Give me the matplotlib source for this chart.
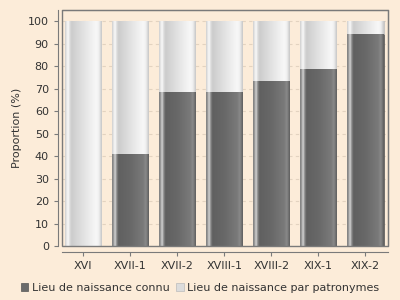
import numpy as np
import matplotlib
matplotlib.use('Agg')
import matplotlib.pyplot as plt
from matplotlib.patches import Rectangle

# Data
periods = ['XVI', 'XVII-1', 'XVII-2', 'XVIII-1', 'XVIII-2', 'XIX-1', 'XIX-2']
connu = [0, 41, 68.5, 68.5, 73.5, 78.5, 94.5]
patronymes = [100 - v for v in connu]
labels = ['Lieu de naissance connu', 'Lieu de naissance par patronymes']

bg = '#fcecd9'
fig = plt.figure(figsize=(4, 3), dpi=100, facecolor=bg)
ax = fig.add_axes([0.155, 0.18, 0.815, 0.787])
ax.set_facecolor(bg)

x = np.arange(len(periods))
width = 0.77
b1 = ax.bar(x, connu, width, color='#6b6b6b', edgecolor='#555555', linewidth=0.5,
            label=labels[0], zorder=2)
b2 = ax.bar(x, patronymes, width, bottom=connu, color='#dcdcdc', edgecolor='#bbbbbb',
            linewidth=0.5, label=labels[1], zorder=2)

# cylinder-like shading, grey levels across the bar width
pos = [0, 0.04, 0.08, 0.12, 0.17, 0.5, 0.85, 0.92, 0.97, 1]
dark_lv = [0x80, 0x9a, 0xd8, 0x90, 0x60, 0x68, 0x7a, 0x8a, 0x70, 0x60]
light_lv = [0xd0, 0xe8, 0xfa, 0xe0, 0xcc, 0xe2, 0xf8, 0xf0, 0xd8, 0xc8]
xs = np.linspace(0, 1, 80)
for bars, lv in ((b1, dark_lv), (b2, light_lv)):
    g = np.interp(xs, pos, lv) / 255.0
    img = np.repeat(g[np.newaxis, :, np.newaxis], 3, axis=2)
    for r in bars:
        if r.get_height() <= 0:
            continue
        x0, y0 = r.get_x(), r.get_y()
        im = ax.imshow(img, aspect='auto', interpolation='bilinear',
                       extent=(x0, x0 + r.get_width(), y0, y0 + r.get_height()), zorder=3)
        im.set_clip_path(r)

ax.set_xlim(-0.45, 6.48)
ax.set_ylim(0, 105)
ax.set_yticks(range(0, 101, 10))
ax.set_xticks(x)
ax.set_xticklabels(periods)
ax.yaxis.grid(True, linestyle=(0, (3, 3)), color='#e3d3c0', linewidth=0.8, zorder=0)

for s in ax.spines.values():
    s.set_color('#7a7a7a')
ax.spines['left'].set_position(('outward', 3))
ax.spines['bottom'].set_position(('outward', 4))
ax.add_patch(Rectangle((0, 0), 1, 1, transform=ax.transAxes, fill=False,
                       edgecolor='#7a7a7a', linewidth=1, zorder=5, clip_on=False))
ax.tick_params(colors='#7a7a7a', labelcolor='#333333', labelsize=8, length=3)
ax.set_ylabel('Proportion (%)', fontsize=8, color='#333333')

fig.legend(handles=[b1, b2], labels=labels, loc='lower center', ncol=2, frameon=False,
           fontsize=8, bbox_to_anchor=(0.5, -0.01), handlelength=0.7, handleheight=0.7,
           handletextpad=0.3, columnspacing=0.6, labelcolor='#333333')

fig.savefig('out.png', dpi=100, facecolor=bg)
